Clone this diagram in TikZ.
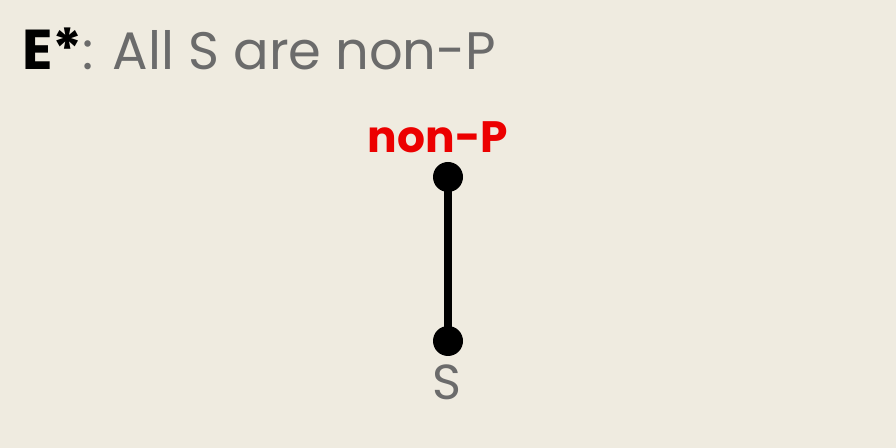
\documentclass[tikz,border=0pt]{standalone}
\usepackage{fontspec}
\setmainfont{Poppins}
\definecolor{paper}{RGB}{239,235,224}
\definecolor{ink}{RGB}{107,107,107}
\definecolor{mark}{RGB}{236,0,0}
\usetikzlibrary{positioning}
\tikzset{
  % dot
	esdot/.style      ={circle, fill=black, inner sep=0pt, minimum size=0.6cm},
  % line
	esline/.style     ={line width=0.16cm},
  % text
	estitle/.style    ={anchor=base west, inner sep=0pt, text=ink, font=\fontsize{30}{33}\selectfont},
	esterm/.style     ={anchor=base, inner sep=0pt, text=mark, font=\fontsize{25}{28}\selectfont\bfseries},
	essubj/.style     ={anchor=base, inner sep=0pt, text=ink, font=\fontsize{28}{30}\selectfont}
}
\begin{document}
\begin{tikzpicture}
	\fill[paper] (0,0) rectangle (17.92,8.96);
	\useasboundingbox (0,0) rectangle (17.92,8.96);
	\node[estitle] (title) at (0.44,7.56) {\textcolor{black}{\fontsize{32}{35}\selectfont\bfseries E*}: All S are non-P};
	\node[esdot] (P) at (8.96,5.42) {};
	\node[esdot] (S) at (8.96,2.14) {};
	\draw[esline] (P.center) -- (S.center);
	\node[esterm] (Plabel) at (8.76,5.9) {non-P};
	\node[essubj] (Slabel) at (8.94,0.96) {S};
\end{tikzpicture}
\end{document}
